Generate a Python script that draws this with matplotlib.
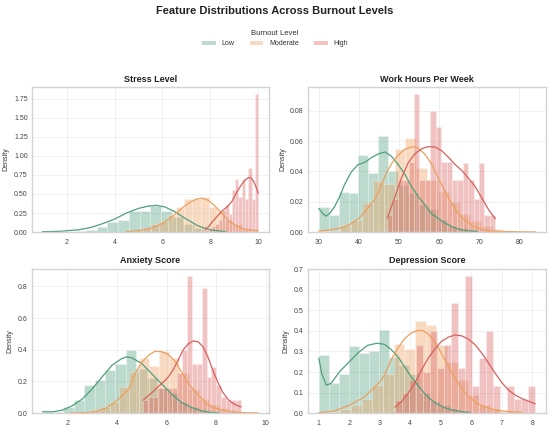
import numpy as np
import matplotlib
matplotlib.use("Agg")
import matplotlib.pyplot as plt
from matplotlib.patches import Patch

plt.rcParams['font.family'] = ['Liberation Sans', 'DejaVu Sans']

levels = ["Low", "Moderate", "High"]
colors = {"Low": "#4f9f7c", "Moderate": "#eda05e", "High": "#d8615f"}
features = ["Stress Level", "Work Hours Per Week", "Anxiety Score", "Depression Score"]

# ---------------- Stress Level ----------------
stress_low_range = (1.0, 8.65)
stress_low_h = [0.005, 0.003, 0.006, 0.012, 0.025, 0.07, 0.13, 0.16, 0.27, 0.27, 0.34, 0.28, 0.20, 0.11, 0.05, 0.02, 0.01]
stress_mod_range = (4.5, 10.0)
stress_mod_h = [0.02, 0.03, 0.06, 0.10, 0.15, 0.22, 0.33, 0.43, 0.44, 0.46, 0.33, 0.27, 0.16, 0.10, 0.05, 0.02]
stress_high_range = (7.8, 10.0)
stress_high_h = [0.03, 0.05, 0.08, 0.10, 0.16, 0.29, 0.35, 0.24, 0.55, 0.70, 0.46, 0.70, 0.44, 0.84, 0.44, 1.81]

stress_low_kx = [1.0, 1.7, 2.5, 3.0, 3.5, 4.0, 4.5, 5.0, 5.4, 5.75, 6.1, 6.5, 7.0, 7.5, 8.0, 8.5, 8.65]
stress_low_ky = [0.005, 0.01, 0.03, 0.06, 0.11, 0.17, 0.25, 0.31, 0.34, 0.35, 0.33, 0.27, 0.17, 0.08, 0.03, 0.01, 0.005]
stress_mod_kx = [4.5, 5.0, 5.5, 6.0, 6.4, 6.8, 7.1, 7.4, 7.65, 7.9, 8.2, 8.5, 8.8, 9.1, 9.4, 9.7, 10.0]
stress_mod_ky = [0.005, 0.02, 0.05, 0.11, 0.20, 0.31, 0.38, 0.43, 0.445, 0.42, 0.34, 0.24, 0.14, 0.08, 0.04, 0.025, 0.02]
stress_high_kx = [7.80, 7.95, 8.10, 8.30, 8.50, 8.70, 8.90, 9.10, 9.30, 9.45, 9.60, 9.70, 9.80, 9.90, 10.0]
stress_high_ky = [0.03, 0.08, 0.14, 0.21, 0.28, 0.33, 0.40, 0.52, 0.62, 0.68, 0.715, 0.71, 0.67, 0.60, 0.51]

# ---------------- Work Hours Per Week ----------------
work_low_range = (30.0, 69.52)
work_low_h = [0.0163, 0.011, 0.0267, 0.0256, 0.0505, 0.039, 0.0635, 0.040, 0.031, 0.026, 0.018, 0.015, 0.008, 0.004, 0.003, 0.0015]
work_mod_range = (30.0, 84.0)
work_mod_h = [0.0005, 0.001, 0.005, 0.0078, 0.019, 0.0334, 0.0316, 0.0545, 0.0617, 0.042, 0.034, 0.027, 0.02, 0.012, 0.0075, 0.004, 0.002, 0.001, 0.0005, 0.0003]
work_high_range = (47.0, 74.0)
work_high_h = [0.011, 0.022, 0.034, 0.034, 0.046, 0.091, 0.034, 0.034, 0.080, 0.069, 0.046, 0.046, 0.0345, 0.0345, 0.0457, 0.034, 0.022, 0.0457, 0.011, 0.011]

work_low_kx = [30.0, 31.0, 31.8, 32.7, 33.9, 35.2, 36.4, 38.1, 39.8, 41.5, 43.1, 44.8, 46.5, 48.1, 49.8, 51.5, 53.1, 54.8, 56.5, 58.1, 59.8, 61.5, 63.2, 64.8, 66.5, 68.2, 69.5]
work_low_ky = [0.0155, 0.0122, 0.0105, 0.0122, 0.0167, 0.0234, 0.0312, 0.0396, 0.0445, 0.046, 0.049, 0.0515, 0.0528, 0.050, 0.0445, 0.0379, 0.030, 0.0234, 0.0178, 0.0122, 0.0089, 0.006, 0.0035, 0.002, 0.0011, 0.0007, 0.0004]
work_mod_kx = [30, 33, 36, 38, 40, 42, 44, 45, 46.5, 48.1, 49.8, 51.5, 53.1, 54.0, 54.8, 56.5, 58.2, 59.8, 61.5, 63.2, 64.8, 66.5, 68.2, 69.9, 71.5, 73.2, 76, 80, 84]
work_mod_ky = [0.0007, 0.0015, 0.003, 0.0055, 0.009, 0.015, 0.022, 0.027, 0.037, 0.045, 0.0508, 0.0546, 0.0561, 0.0562, 0.0552, 0.0512, 0.0445, 0.0356, 0.0267, 0.0189, 0.0122, 0.0078, 0.0045, 0.0022, 0.0011, 0.0007, 0.0004, 0.0002, 0.0001]
work_high_kx = [47.1, 49.0, 50.6, 52.3, 54.0, 55.7, 57.3, 59.0, 60.7, 62.3, 64.0, 65.7, 67.3, 69.0, 70.7, 72.4, 74.0]
work_high_ky = [0.0094, 0.0234, 0.0356, 0.0457, 0.0517, 0.055, 0.0563, 0.0561, 0.0535, 0.0494, 0.0445, 0.0405, 0.0356, 0.030, 0.0223, 0.0145, 0.0089]

# ---------------- Anxiety Score ----------------
anx_low_range = (1.0, 8.14)
anx_low_h = [0.01, 0.005, 0.04, 0.08, 0.175, 0.21, 0.275, 0.31, 0.40, 0.28, 0.22, 0.16, 0.13, 0.07, 0.04, 0.02, 0.01]
anx_mod_range = (2.1, 9.7)
anx_mod_h = [0.005, 0.005, 0.02, 0.04, 0.07, 0.165, 0.26, 0.345, 0.296, 0.39, 0.345, 0.25, 0.15, 0.09, 0.05, 0.03, 0.015, 0.008, 0.004]
anx_high_range = (5.05, 9.0)
anx_high_h = [0.08, 0.10, 0.10, 0.16, 0.16, 0.16, 0.16, 0.25, 0.40, 0.866, 0.313, 0.313, 0.787, 0.23, 0.29, 0.175, 0.10, 0.08, 0.08, 0.08]

anx_low_kx = [1.0, 1.4, 1.8, 2.2, 2.6, 3.0, 3.4, 3.8, 4.2, 4.4, 4.6, 5.0, 5.4, 5.8, 6.2, 6.6, 7.0, 7.4, 7.8, 8.1]
anx_low_ky = [0.0085, 0.008, 0.019, 0.047, 0.089, 0.153, 0.228, 0.302, 0.345, 0.355, 0.349, 0.313, 0.249, 0.185, 0.121, 0.068, 0.036, 0.015, 0.004, 0.002]
anx_mod_kx = [2.1, 2.5, 2.8, 3.2, 3.6, 4.0, 4.47, 4.73, 5.0, 5.27, 5.53, 5.8, 6.07, 6.33, 6.6, 6.87, 7.13, 7.4, 7.67, 7.93, 8.2, 8.47, 8.87, 9.2, 9.7]
anx_mod_ky = [0.001, 0.002, 0.004, 0.012, 0.035, 0.08, 0.15, 0.25, 0.32, 0.365, 0.39, 0.388, 0.37, 0.33, 0.26, 0.19, 0.14, 0.095, 0.055, 0.035, 0.02, 0.013, 0.006, 0.003, 0.001]
anx_high_kx = [5.07, 5.27, 5.47, 5.67, 5.87, 6.07, 6.27, 6.47, 6.67, 6.87, 7.07, 7.27, 7.47, 7.67, 7.87, 8.07, 8.27, 8.47, 8.67, 8.87, 9.0]
anx_high_ky = [0.083, 0.111, 0.138, 0.168, 0.196, 0.228, 0.274, 0.334, 0.398, 0.436, 0.455, 0.451, 0.419, 0.355, 0.270, 0.196, 0.132, 0.089, 0.062, 0.047, 0.040]

# ---------------- Depression Score ----------------
dep_low_range = (1.0, 5.95)
dep_low_h = [0.283, 0.147, 0.19, 0.327, 0.293, 0.304, 0.406, 0.275, 0.234, 0.19, 0.1, 0.06, 0.04, 0.02, 0.01]
dep_mod_range = (1.0, 7.65)
dep_mod_h = [0.003, 0.005, 0.02, 0.04, 0.07, 0.136, 0.19, 0.337, 0.314, 0.447, 0.43, 0.33, 0.25, 0.16, 0.09, 0.04, 0.02, 0.01, 0.005]
dep_high_range = (3.5, 8.1)
dep_high_h = [0.065, 0.10, 0.16, 0.332, 0.20, 0.40, 0.22, 0.33, 0.534, 0.22, 0.668, 0.13, 0.267, 0.398, 0.13, 0.0, 0.13, 0.067, 0.067, 0.13]

dep_low_kx = [1.0, 1.1, 1.25, 1.4, 1.7, 2.0, 2.3, 2.6, 2.9, 3.15, 3.37, 3.59, 3.81, 4.03, 4.25, 4.47, 4.69, 4.91, 5.13, 5.35, 5.57, 5.8, 5.95]
dep_low_ky = [0.267, 0.19, 0.136, 0.145, 0.205, 0.25, 0.295, 0.33, 0.34, 0.335, 0.31, 0.275, 0.226, 0.177, 0.135, 0.095, 0.064, 0.042, 0.026, 0.016, 0.01, 0.005, 0.003]
dep_mod_kx = [1.0, 1.5, 2.0, 2.5, 3.0, 3.15, 3.37, 3.59, 3.81, 4.03, 4.25, 4.42, 4.58, 4.80, 5.02, 5.25, 5.47, 5.69, 5.91, 6.13, 6.35, 6.57, 6.79, 7.01, 7.23, 7.65]
dep_mod_ky = [0.002, 0.01, 0.038, 0.079, 0.152, 0.185, 0.259, 0.316, 0.362, 0.39, 0.403, 0.401, 0.386, 0.349, 0.291, 0.226, 0.169, 0.119, 0.082, 0.054, 0.036, 0.0245, 0.016, 0.011, 0.008, 0.004]
dep_high_kx = [3.5, 3.7, 3.92, 4.14, 4.36, 4.58, 4.8, 5.02, 5.25, 5.47, 5.69, 5.91, 6.13, 6.35, 6.57, 6.79, 7.01, 7.23, 7.45, 7.67, 7.89, 8.09]
dep_high_ky = [0.0295, 0.054, 0.095, 0.144, 0.209, 0.266, 0.311, 0.349, 0.370, 0.38, 0.376, 0.36, 0.332, 0.291, 0.242, 0.193, 0.147, 0.111, 0.087, 0.070, 0.057, 0.046]

panels = {
    "Stress Level": {
        "Low": (stress_low_range, stress_low_h, stress_low_kx, stress_low_ky),
        "Moderate": (stress_mod_range, stress_mod_h, stress_mod_kx, stress_mod_ky),
        "High": (stress_high_range, stress_high_h, stress_high_kx, stress_high_ky),
    },
    "Work Hours Per Week": {
        "Low": (work_low_range, work_low_h, work_low_kx, work_low_ky),
        "Moderate": (work_mod_range, work_mod_h, work_mod_kx, work_mod_ky),
        "High": (work_high_range, work_high_h, work_high_kx, work_high_ky),
    },
    "Anxiety Score": {
        "Low": (anx_low_range, anx_low_h, anx_low_kx, anx_low_ky),
        "Moderate": (anx_mod_range, anx_mod_h, anx_mod_kx, anx_mod_ky),
        "High": (anx_high_range, anx_high_h, anx_high_kx, anx_high_ky),
    },
    "Depression Score": {
        "Low": (dep_low_range, dep_low_h, dep_low_kx, dep_low_ky),
        "Moderate": (dep_mod_range, dep_mod_h, dep_mod_kx, dep_mod_ky),
        "High": (dep_high_range, dep_high_h, dep_high_kx, dep_high_ky),
    },
}

fig = plt.figure(figsize=(5.5, 4.29), dpi=100)
positions = [
    [0.058, 0.459, 0.431, 0.338],
    [0.560, 0.459, 0.433, 0.338],
    [0.058, 0.037, 0.431, 0.336],
    [0.560, 0.037, 0.433, 0.336],
]

for feat, pos in zip(features, positions):
    ax = fig.add_axes(pos)
    ax.set_facecolor("white")
    ax.grid(True, color="#ececec", linewidth=0.5)
    ax.set_axisbelow(True)
    for lvl in levels:
        rng, h, kx, ky = panels[feat][lvl]
        edges = np.linspace(rng[0], rng[1], len(h) + 1)
        ax.bar(edges[:-1], h, width=np.diff(edges), align="edge",
               color=colors[lvl], alpha=0.38, edgecolor="white", linewidth=0.5)
        ax.plot(kx, ky, color=colors[lvl], linewidth=0.9)
    ax.set_title(feat, fontsize=6.5, fontweight="bold", color="#222222", pad=4)
    ax.set_ylabel("Density", fontsize=5, color="#333333", labelpad=3)
    ax.tick_params(axis="both", labelsize=5, colors="#444444", length=0)
    ax.tick_params(axis="x", pad=5)
    ax.tick_params(axis="y", pad=3)
    for sp in ax.spines.values():
        sp.set_color("#d4d4d4")
        sp.set_linewidth(1.0)

fig.suptitle("Feature Distributions Across Burnout Levels", fontsize=8,
             fontweight="bold", color="#222222", y=0.985)

handles = [Patch(facecolor=colors[l], alpha=0.38, edgecolor="none") for l in levels]
leg = fig.legend(handles, levels, title="Burnout Level", loc="upper center",
                 bbox_to_anchor=(0.5, 0.937), ncol=3, frameon=False,
                 fontsize=5, title_fontsize=5.5, handlelength=2.0, handleheight=0.6,
                 columnspacing=2.2, handletextpad=0.8, borderaxespad=0)
for t in leg.get_texts():
    t.set_color("#333333")
leg.get_title().set_color("#333333")

fig.savefig("out.png", dpi=100, facecolor="white")
